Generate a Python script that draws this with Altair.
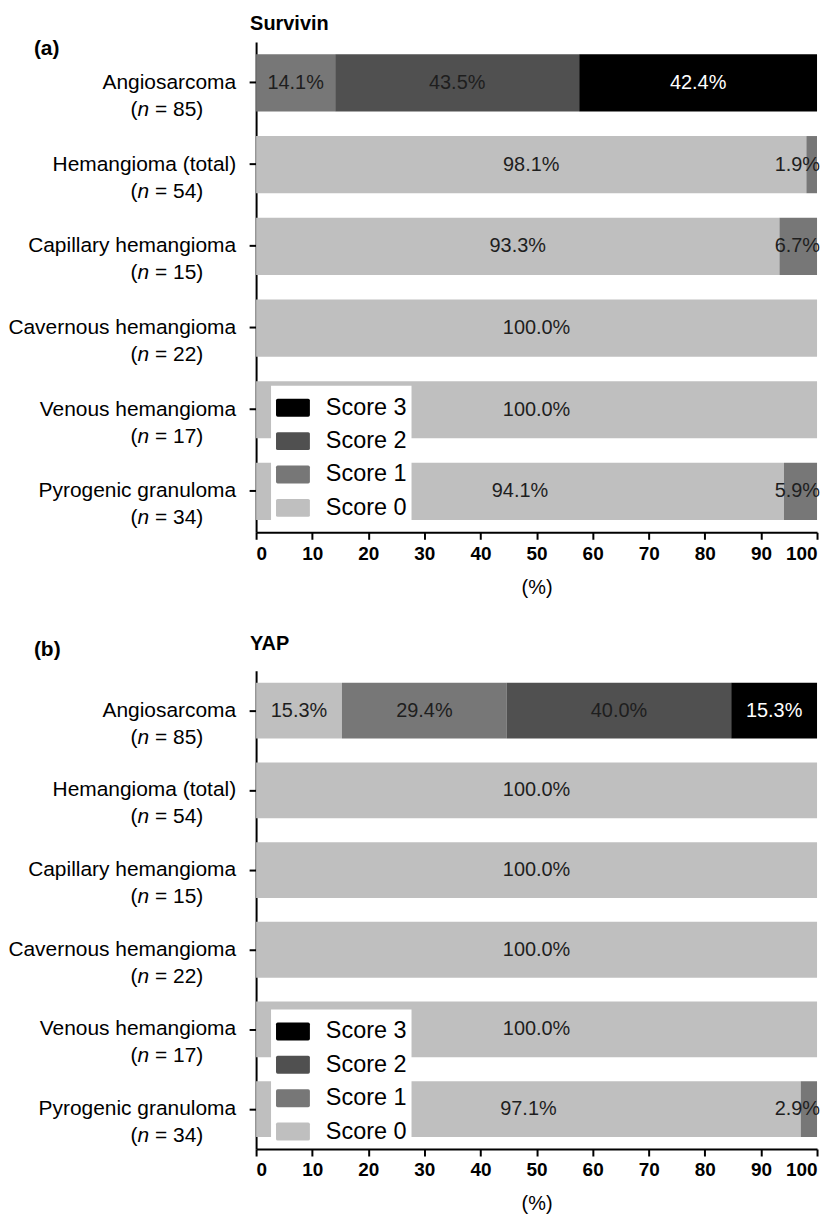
import altair as alt
import pandas as pd

categories = ["Angiosarcoma", "Hemangioma (total)", "Capillary hemangioma",
              "Cavernous hemangioma", "Venous hemangioma", "Pyrogenic granuloma"]
n_values = [85, 54, 15, 22, 17, 34]
scores = ["Score 0", "Score 1", "Score 2", "Score 3"]

# percentages per category, order: Score 0, Score 1, Score 2, Score 3
survivin = [
    [0.0, 14.1, 43.5, 42.4],
    [98.1, 1.9, 0.0, 0.0],
    [93.3, 6.7, 0.0, 0.0],
    [100.0, 0.0, 0.0, 0.0],
    [100.0, 0.0, 0.0, 0.0],
    [94.1, 5.9, 0.0, 0.0],
]
yap = [
    [15.3, 29.4, 40.0, 15.3],
    [100.0, 0.0, 0.0, 0.0],
    [100.0, 0.0, 0.0, 0.0],
    [100.0, 0.0, 0.0, 0.0],
    [100.0, 0.0, 0.0, 0.0],
    [97.1, 2.9, 0.0, 0.0],
]

FONT = "Liberation Sans"
LABEL_FS = 21
VALUE_FS = 20
W = 563

color_domain = ["Score 3", "Score 2", "Score 1", "Score 0"]
color_range = ["#000000", "#505050", "#777777", "#bfbfbf"]

rect_path = ("M-0.9,-0.53H0.9Q1,-0.53 1,-0.43V0.43Q1,0.53 0.9,0.53"
             "H-0.9Q-1,0.53 -1,0.43V-0.43Q-1,-0.53 -0.9,-0.53Z")

cat_df = pd.DataFrame({"category": categories, "n": n_values})

# widths of the n-line pieces (Arial metrics)
suffix_w = 2.585 * LABEL_FS
n_w = 0.556 * LABEL_FS
N_RIGHT = -53


def make_panel(values, title, letter, letter_y, title_y, legend_y, height):
    rows = []
    for c, vals in zip(categories, values):
        for i, s in enumerate(scores):
            rows.append({"category": c, "score": s, "ord": i, "pct": vals[i]})
    df = pd.DataFrame(rows)

    y = alt.Y("category:N", sort=categories,
              scale=alt.Scale(paddingInner=0.3, paddingOuter=0.15),
              axis=alt.Axis(labels=False, title=None, ticks=True, tickSize=7,
                            tickWidth=2, domainWidth=2, domainColor="black",
                            tickColor="black"))

    base = alt.Chart(df).transform_filter("datum.pct > 0").transform_stack(
        stack="pct", groupby=["category"], as_=["x0", "x1"],
        sort=[alt.SortField("ord", order="ascending")]
    )

    bars = base.mark_bar().encode(
        x=alt.X("x0:Q", scale=alt.Scale(domain=[0, 100], nice=False),
                axis=alt.Axis(values=list(range(0, 101, 10)), title="(%)",
                              labelFontWeight="bold", labelFontSize=19,
                              labelColor="black", tickSize=7, tickWidth=2,
                              domainWidth=2, domainColor="black",
                              tickColor="black", labelPadding=5,
                              titleFontSize=20, titleFontWeight="normal",
                              titlePadding=14, grid=False, titleColor="black")),
        x2="x1:Q",
        y=y,
        color=alt.Color("score:N",
                        scale=alt.Scale(domain=color_domain, range=color_range),
                        legend=alt.Legend(title=None, orient="none",
                                          legendX=15, legendY=legend_y,
                                          fillColor="white", padding=5,
                                          labelFontSize=23.5, labelColor="black",
                                          symbolType=rect_path, symbolSize=1156,
                                          symbolStrokeWidth=0, labelOffset=16,
                                          rowPadding=4.5)),
    )

    text_big = base.transform_filter("datum.pct >= 10").transform_calculate(
        mid="(datum.x0 + datum.x1) / 2",
        lbl="format(datum.pct, '.1f') + '%'",
    ).mark_text(fontSize=VALUE_FS, align="center", baseline="middle").encode(
        x="mid:Q",
        y=y,
        text="lbl:N",
        color=alt.condition("datum.ord == 3", alt.value("white"), alt.value("#1e1e1e")),
    )

    text_small = base.transform_filter("datum.pct < 10").transform_calculate(
        lbl="format(datum.pct, '.1f') + '%'",
        xend="100",
    ).mark_text(fontSize=VALUE_FS, align="right", baseline="middle", dx=3,
                color="#1e1e1e").encode(
        x="xend:Q",
        y=y,
        text="lbl:N",
    )

    lab_base = alt.Chart(cat_df)
    name_lbl = lab_base.mark_text(fontSize=LABEL_FS, align="right", baseline="middle",
                                  color="black").encode(
        x=alt.value(-20), y=y, text="category:N")
    n_suffix = lab_base.transform_calculate(t="' = ' + datum.n + ')'").mark_text(
        fontSize=LABEL_FS, align="right", baseline="middle", dy=27, color="black"
    ).encode(x=alt.value(N_RIGHT), y=y, text="t:N")
    n_ital = lab_base.transform_calculate(t="'n'").mark_text(
        fontSize=LABEL_FS, align="right", baseline="middle", dy=27, color="black",
        fontStyle="italic"
    ).encode(x=alt.value(N_RIGHT - suffix_w), y=y, text="t:N")
    n_open = lab_base.transform_calculate(t="'('").mark_text(
        fontSize=LABEL_FS, align="right", baseline="middle", dy=27, color="black"
    ).encode(x=alt.value(N_RIGHT - suffix_w - n_w), y=y, text="t:N")

    letter_mark = alt.Chart(pd.DataFrame({"t": [letter]})).mark_text(
        fontSize=21, fontWeight="bold", align="left", baseline="middle", color="black"
    ).encode(x=alt.value(-223), y=alt.value(letter_y), text="t:N")

    title_mark = alt.Chart(pd.DataFrame({"t": [title]})).mark_text(
        fontSize=20, fontWeight="bold", align="left", baseline="middle", color="black"
    ).encode(x=alt.value(-6), y=alt.value(title_y), text="t:N")

    return alt.layer(bars, text_big, text_small, name_lbl, n_suffix, n_ital,
                     n_open, letter_mark, title_mark).properties(
        width=W, height=height,
    )


panel_a = make_panel(survivin, "Survivin", "(a)", 7, -18, 345, 492)
panel_b = make_panel(yap, "YAP", "(b)", -21, -27, 340, 480)

chart = alt.vconcat(panel_a, panel_b, spacing=37).resolve_scale(
    color="independent", y="independent", x="independent"
).resolve_legend(color="independent").properties(
    padding={"left": 0, "top": 4, "right": 5, "bottom": 0}
).configure(font=FONT).configure_view(strokeWidth=0)

chart.save("out.html", embed_options={"renderer": "svg", "actions": False})
